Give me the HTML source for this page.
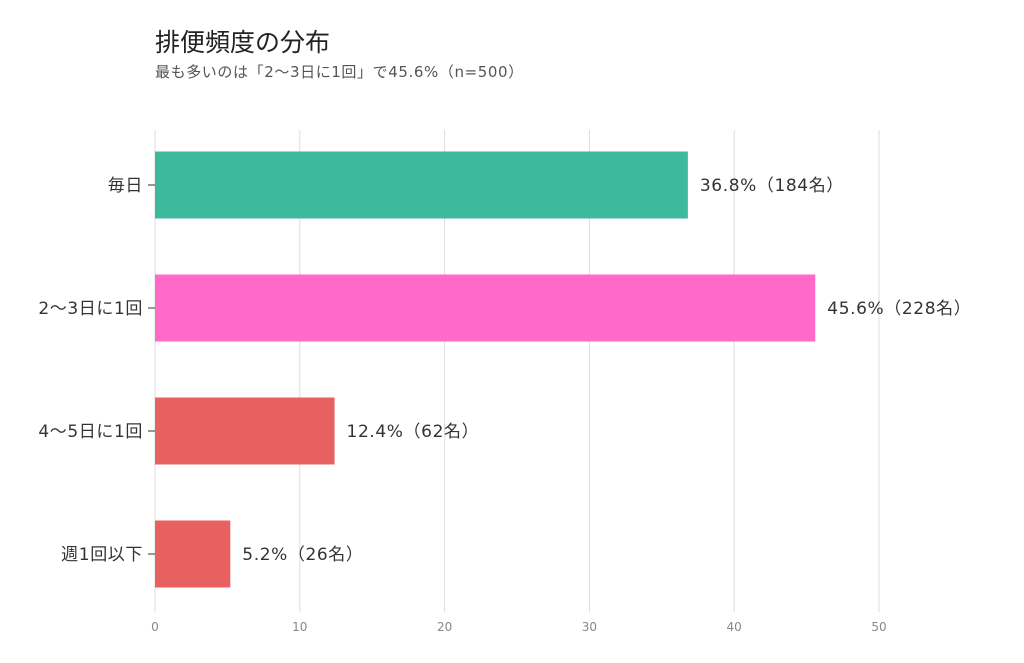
<!DOCTYPE html>
<html><head><meta charset="utf-8">
<style>
body{margin:0;background:#fff;font-family:"DejaVu Sans","Noto Sans CJK JP",sans-serif;}
svg{display:block}
</style></head>
<body>
<svg id="chart" width="1024" height="663" xmlns="http://www.w3.org/2000/svg" font-family="DejaVu Sans, Noto Sans CJK JP, sans-serif">
<text x="155" y="51" font-size="25" fill="#222">排便頻度の分布</text>
<text x="155" y="77" font-size="15" letter-spacing="0.6" fill="#555">最も多いのは「2〜3日に1回」で45.6%（n=500）</text>
<g id="grid"></g><g id="bars"></g>
</svg>
<script>
const categories=["毎日","2〜3日に1回","4〜5日に1回","週1回以下"];
const values=[36.8,45.6,12.4,5.2];
const counts=[184,228,62,26];
const colors=["#3dba9c","#ff69c8","#e86060","#e86060"];
const ticks=[0,10,20,30,40,50];
const NS="http://www.w3.org/2000/svg";
const x=v=>155+v*(879-155)/50;
const y=i=>185+i*123;
const grid=document.getElementById('grid'),bars=document.getElementById('bars');
function mk(t,a,p){const e=document.createElementNS(NS,t);for(const k in a)e.setAttribute(k,a[k]);p.appendChild(e);return e;}
ticks.forEach(t=>{
  const l=mk('line',{x1:x(t),x2:x(t),y1:130,y2:612,stroke:"#ddd","stroke-width":1},grid);
  
  
  const tx=mk('text',{x:x(t),y:631,"font-size":12,fill:"#888","text-anchor":"middle"},grid);
  tx.textContent=t;
  
  
});
categories.forEach((c,i)=>{
  const r=mk('rect',{x:x(0),y:y(i)-33.5,width:x(values[i])-x(0),height:67,fill:colors[i]},bars);
  
  
  const tk=mk('line',{x1:148,x2:155,y1:y(i),y2:y(i),stroke:"#333","stroke-width":1},bars);
  
  
  const lb=mk('text',{x:143,y:y(i)+6,"font-size":17,"letter-spacing":0.6,fill:"#333","text-anchor":"end"},bars);
  lb.textContent=c;
  
  
  const vl=mk('text',{x:x(values[i])+12,y:y(i)+6,"font-size":17,"letter-spacing":0.6,fill:"#333"},bars);
  vl.textContent=values[i].toFixed(1)+"%（"+counts[i]+"名）";
  
  
});
</script>
</body></html>
